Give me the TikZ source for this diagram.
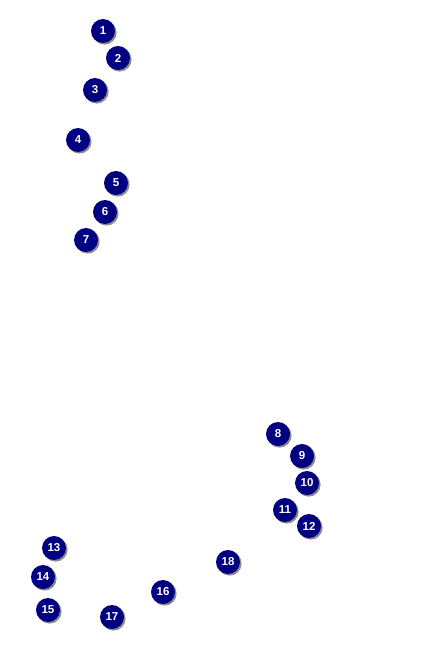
\documentclass[tikz,border=0pt]{standalone}
\usepackage{fontspec}
\setmainfont{Liberation Sans}
\usetikzlibrary{shadows}
\definecolor{markerblue}{RGB}{0,0,128}

\tikzset{
  marker/.style={circle, fill=markerblue, minimum size=24pt, inner sep=0pt,
    text=white, font=\fontsize{11.5}{12}\selectfont\bfseries,
    drop shadow={shadow xshift=1.6pt, shadow yshift=-1.6pt, fill=black!45, opacity=1}},
}

\begin{document}
\begin{tikzpicture}[x=1pt, y=-1pt]
  \useasboundingbox (0,0) rectangle (425,650);
  \foreach \i/\x/\y in {1/103/31, 2/118/58, 3/95/90, 4/78/140, 5/116/183,
      6/105/212, 7/86/240, 8/278/434, 9/302/456, 10/307/483, 11/285/510,
      12/309/526, 13/54/548, 14/43/577, 15/48/610, 16/163/592, 17/112/617,
      18/228/562}
    \node[marker] (n\i) at (\x,\y) {\i};
\end{tikzpicture}
\end{document}
